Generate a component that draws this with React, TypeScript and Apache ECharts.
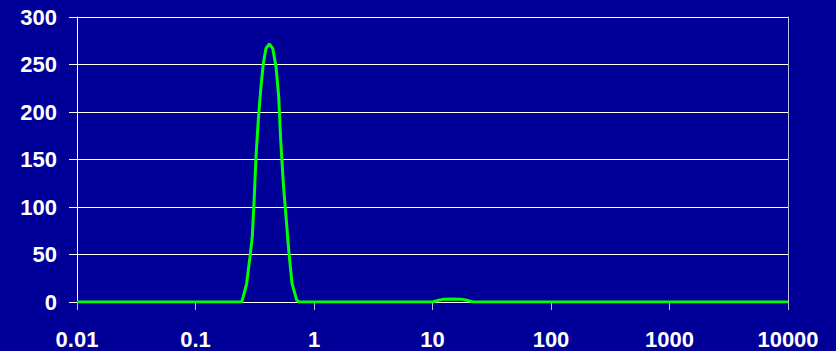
import React, { useEffect, useRef } from "react";
import * as echarts from "echarts";

// particle size (log scale) and distribution values
const sizes: number[] = [
  0.01, 0.1, 0.2, 0.245, 0.2531, 0.2704, 0.2884, 0.3015, 0.3134, 0.324, 0.3388, 0.357,
  0.3734, 0.3935, 0.4196, 0.4482, 0.4779, 0.5037, 0.5236, 0.5507, 0.5804, 0.6116,
  0.6523, 0.7145, 0.75, 1, 10, 11, 12.5, 15, 17.5, 20, 22, 30, 100, 1000, 10000,
];
const values: number[] = [
  0, 0, 0, 0, 5.6, 19.7, 47.7, 68.7, 111, 153, 191.6, 226.6,
  251, 267, 271.6, 267, 247.7, 216, 170.5, 125, 90, 54.7,
  19.7, 2, 0, 0, 0, 1.5, 3, 3.2, 3, 1.5, 0, 0, 0, 0, 0,
];
const yTicks = { min: 0, max: 300, interval: 50 };
const xRange = { min: 0.01, max: 10000 };

export default function App() {
  const ref = useRef<HTMLDivElement>(null);
  useEffect(() => {
    if (!ref.current) return;
    const chart = echarts.init(ref.current, null, { renderer: "svg" });
    const labelStyle = {
      color: "#ffffff",
      fontFamily: "Liberation Sans, Arial, sans-serif",
      fontWeight: "bold" as const,
      fontSize: 22,
    };
    chart.setOption({
      animation: false,
      backgroundColor: "#000099",
      grid: { left: 77, right: 48, top: 17, bottom: 49 },
      xAxis: {
        type: "log",
        logBase: 10,
        min: xRange.min,
        max: xRange.max,
        axisLine: { show: true, lineStyle: { color: "#ffffff", width: 1 } },
        axisTick: { show: true, length: 8, lineStyle: { color: "#c0c0e0", width: 1 } },
        minorTick: { show: false },
        splitLine: { show: false },
        axisLabel: {
          ...labelStyle,
          margin: 26,
          formatter: (v: number) => {
            const e = Math.round(Math.log10(v));
            return e < 0 ? v.toFixed(-e) : String(Math.round(v));
          },
        },
      },
      yAxis: [
        {
          type: "value",
          min: yTicks.min,
          max: yTicks.max,
          interval: yTicks.interval,
          axisLine: { show: true, lineStyle: { color: "#ffffff", width: 1 } },
          axisTick: { show: true, length: 8, lineStyle: { color: "#ffffff", width: 1 } },
          splitLine: { show: true, lineStyle: { color: "#ffffff", width: 1 } },
          axisLabel: { ...labelStyle, margin: 20 },
        },
        {
          type: "value",
          position: "right",
          min: yTicks.min,
          max: yTicks.max,
          interval: yTicks.interval,
          axisLine: { show: true, lineStyle: { color: "#c0c0e0", width: 1 } },
          axisTick: { show: false },
          splitLine: { show: false },
          axisLabel: { show: false },
        },
      ],
      series: [
        {
          type: "line",
          data: sizes.map((s, i) => [s, values[i]]),
          showSymbol: false,
          symbol: "none",
          smooth: false,
          lineStyle: { color: "#00ff00", width: 3 },
        },
      ],
    });
    return () => chart.dispose();
  }, []);
  return <div ref={ref} style={{ width: 836, height: 351, position: "absolute", left: 0, top: 0 }} />;
}
